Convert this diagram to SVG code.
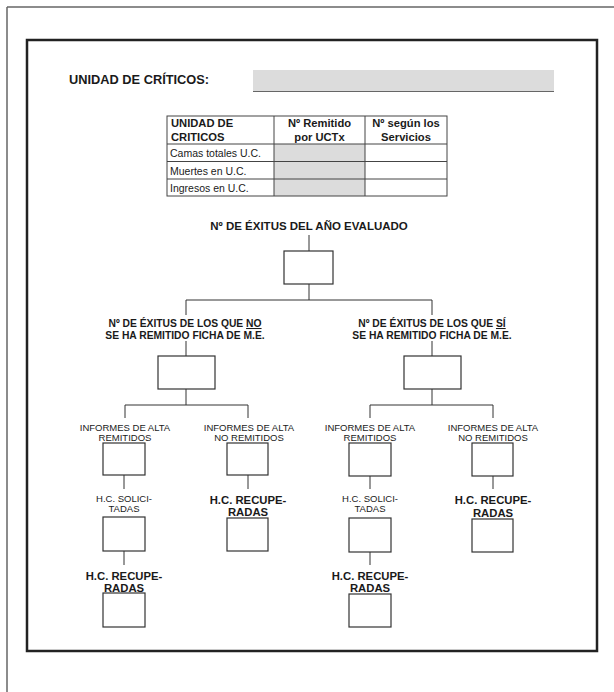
<svg xmlns="http://www.w3.org/2000/svg" width="614" height="692" viewBox="0 0 614 692">
<style>
  text { font-family: "Liberation Sans", Arial, sans-serif; fill: #1a1a1a; }
  .title { font-size: 12.8px; font-weight: bold; }
  .th { font-size: 11.2px; font-weight: bold; }
  .td { font-size: 10.5px; }
  .lbl1 { font-size: 11.5px; font-weight: bold; text-anchor: middle; }
  .lbl2 { font-size: 10.3px; font-weight: bold; text-anchor: middle; }
  .small { font-size: 9.5px; text-anchor: middle; }
  .hc { font-size: 11.3px; font-weight: bold; text-anchor: middle; }
  .box { fill: #fff; stroke: #333; stroke-width: 1.2; }
  .conn line { stroke: #333; stroke-width: 1; }
  .grid { stroke: #444; stroke-width: 1; fill: none; }
  .shade { fill: #dcdcdc; }
</style>
<rect x="0" y="0" width="614" height="692" fill="#fff"/>
<!-- outer frame -->
<line x1="7" y1="7" x2="614" y2="7" stroke="#666" stroke-width="1.5"/>
<line x1="7" y1="7" x2="7" y2="692" stroke="#666" stroke-width="1.5"/>
<!-- inner frame -->
<rect x="27" y="40" width="570" height="611" fill="none" stroke="#222" stroke-width="2.5"/>

<g id="header">
  <text class="title" x="69" y="83.5">UNIDAD DE CRÍTICOS:</text>
  <rect class="shade" x="253" y="70" width="301" height="21"/>
  <line x1="253" y1="91.5" x2="554" y2="91.5" stroke="#666" stroke-width="1"/>
</g>

<g id="table">
  <rect class="shade" x="274" y="144" width="91" height="52"/>
  <rect class="grid" x="167" y="116" width="280" height="80"/>
  <line class="grid" x1="274" y1="116" x2="274" y2="196"/>
  <line class="grid" x1="365" y1="116" x2="365" y2="196"/>
  <line class="grid" x1="167" y1="144" x2="447" y2="144"/>
  <line class="grid" x1="167" y1="161.5" x2="447" y2="161.5"/>
  <line class="grid" x1="167" y1="179" x2="447" y2="179"/>
  <text class="th" x="171" y="127">UNIDAD DE</text>
  <text class="th" x="171" y="140.5">CRITICOS</text>
  <text class="th" x="319.5" y="127" text-anchor="middle">Nº Remitido</text>
  <text class="th" x="319.5" y="140.5" text-anchor="middle">por UCTx</text>
  <text class="th" x="406" y="127" text-anchor="middle">Nº según los</text>
  <text class="th" x="406" y="140.5" text-anchor="middle">Servicios</text>
  <text class="td" x="170" y="157">Camas totales U.C.</text>
  <text class="td" x="170" y="175">Muertes en U.C.</text>
  <text class="td" x="170" y="192">Ingresos en U.C.</text>
</g>

<g id="connectors" class="conn">
  <line x1="309" y1="235" x2="309" y2="251"/>
  <line x1="309" y1="284" x2="309" y2="300"/>
  <line x1="186" y1="300" x2="432" y2="300"/>
  <line x1="186" y1="300" x2="186" y2="315"/>
  <line x1="432" y1="300" x2="432" y2="315"/>
  <line x1="186" y1="341" x2="186" y2="356"/>
  <line x1="432" y1="341" x2="432" y2="356"/>
  <line x1="186" y1="389" x2="186" y2="405"/>
  <line x1="432" y1="389" x2="432" y2="405"/>
  <line x1="125" y1="405" x2="248" y2="405"/>
  <line x1="370" y1="405" x2="493" y2="405"/>
  <line x1="125" y1="405" x2="125" y2="418"/>
  <line x1="248" y1="405" x2="248" y2="418"/>
  <line x1="370" y1="405" x2="370" y2="418"/>
  <line x1="493" y1="405" x2="493" y2="418"/>
  <line x1="124" y1="475" x2="124" y2="489"/>
  <line x1="124" y1="551" x2="124" y2="565"/>
  <line x1="248" y1="475" x2="248" y2="489"/>
  <line x1="370" y1="476" x2="370" y2="489"/>
  <line x1="370" y1="552" x2="370" y2="565"/>
  <line x1="493" y1="476" x2="493" y2="489"/>
</g>

<g id="n-total">
  <text class="lbl1" x="309" y="230">Nº DE ÉXITUS DEL AÑO EVALUADO</text>
  <rect class="box" x="284" y="251" width="49" height="33"/>
</g>

<g id="n-no">
  <text class="lbl2" x="185" y="327">Nº DE ÉXITUS DE LOS QUE <tspan text-decoration="underline">NO</tspan></text>
  <text class="lbl2" x="185" y="339">SE HA REMITIDO FICHA DE M.E.</text>
  <rect class="box" x="158" y="356" width="57" height="33"/>
</g>

<g id="n-si">
  <text class="lbl2" x="432" y="327">Nº DE ÉXITUS DE LOS QUE <tspan text-decoration="underline">SÍ</tspan></text>
  <text class="lbl2" x="432" y="339">SE HA REMITIDO FICHA DE M.E.</text>
  <rect class="box" x="404" y="356" width="57" height="33"/>
</g>

<g id="n-no-rem">
  <text class="small" x="125" y="430.5">INFORMES DE ALTA</text>
  <text class="small" x="125" y="440.5">REMITIDOS</text>
  <rect class="box" x="103" y="443" width="42" height="32"/>
</g>
<g id="n-no-rem-sol">
  <text class="small" x="124" y="501.5">H.C. SOLICI-</text>
  <text class="small" x="124" y="511.5">TADAS</text>
  <rect class="box" x="103" y="517" width="42" height="34"/>
</g>
<g id="n-no-rem-rec">
  <text class="hc" x="124" y="580">H.C. RECUPE-</text>
  <text class="hc" x="124" y="591.5">RADAS</text>
  <rect class="box" x="103" y="593" width="42" height="34"/>
</g>

<g id="n-no-norem">
  <text class="small" x="249" y="430.5">INFORMES DE ALTA</text>
  <text class="small" x="249" y="440.5">NO REMITIDOS</text>
  <rect class="box" x="227" y="443" width="41" height="32"/>
</g>
<g id="n-no-norem-rec">
  <text class="hc" x="248" y="504">H.C. RECUPE-</text>
  <text class="hc" x="248" y="516">RADAS</text>
  <rect class="box" x="227" y="518" width="41" height="33"/>
</g>

<g id="n-si-rem">
  <text class="small" x="370" y="430.5">INFORMES DE ALTA</text>
  <text class="small" x="370" y="440.5">REMITIDOS</text>
  <rect class="box" x="349" y="443" width="42" height="33"/>
</g>
<g id="n-si-rem-sol">
  <text class="small" x="370" y="501.5">H.C. SOLICI-</text>
  <text class="small" x="370" y="511.5">TADAS</text>
  <rect class="box" x="349" y="518" width="42" height="34"/>
</g>
<g id="n-si-rem-rec">
  <text class="hc" x="370" y="580">H.C. RECUPE-</text>
  <text class="hc" x="370" y="591.5">RADAS</text>
  <rect class="box" x="349" y="594" width="42" height="33"/>
</g>

<g id="n-si-norem">
  <text class="small" x="493" y="430.5">INFORMES DE ALTA</text>
  <text class="small" x="493" y="440.5">NO REMITIDOS</text>
  <rect class="box" x="472" y="443" width="41" height="33"/>
</g>
<g id="n-si-norem-rec">
  <text class="hc" x="493" y="504">H.C. RECUPE-</text>
  <text class="hc" x="493" y="517">RADAS</text>
  <rect class="box" x="472" y="519" width="41" height="33"/>
</g>
</svg>
